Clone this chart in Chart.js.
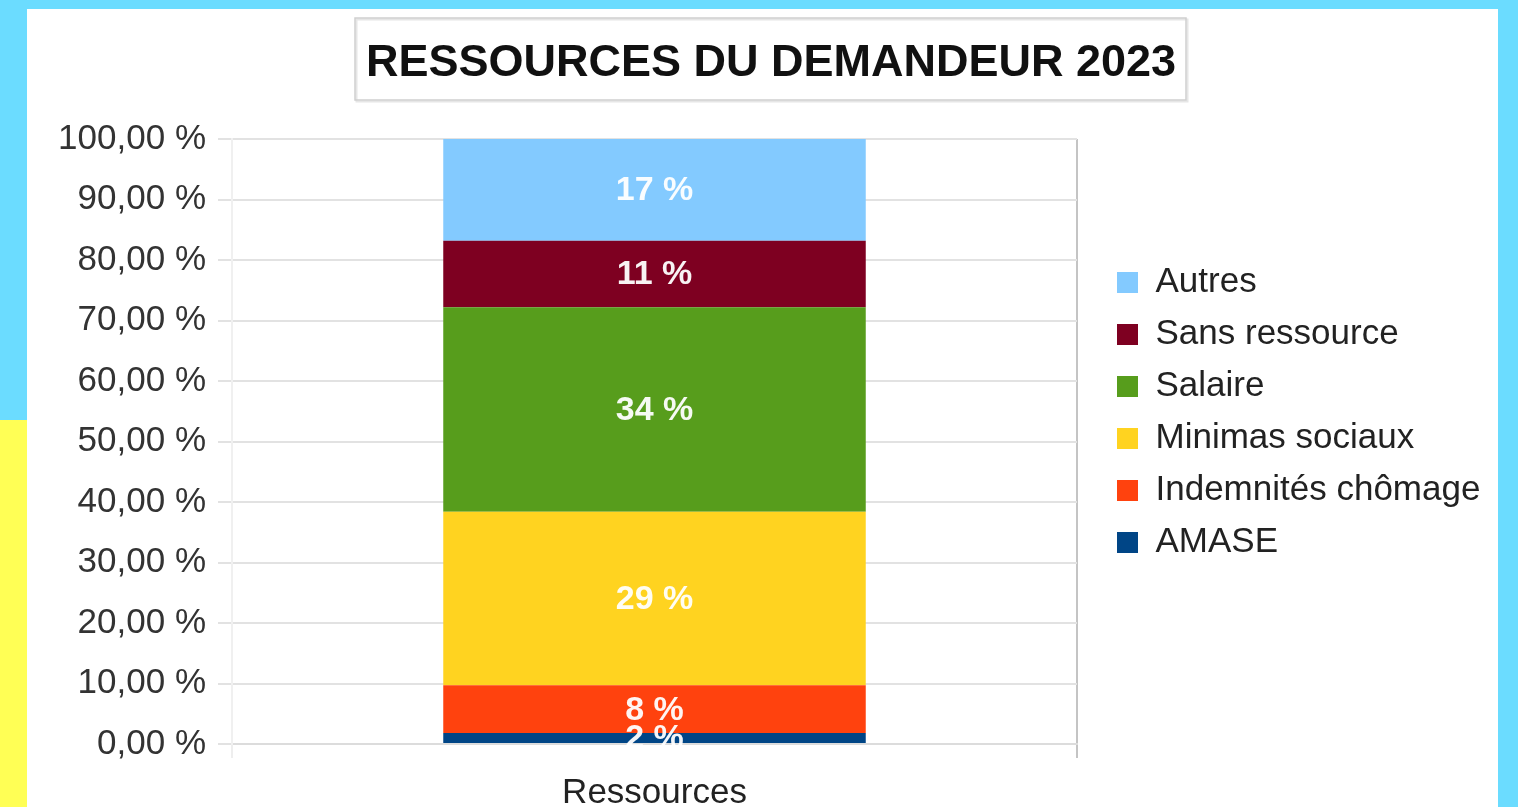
<!DOCTYPE html>
<html>
<head>
<meta charset="utf-8">
<script src="https://cdn.jsdelivr.net/npm/chart.js@4/dist/chart.umd.min.js"></script>
<style>
  html, body { margin: 0; padding: 0; }
  body { width: 1518px; height: 807px; overflow: hidden; background: #6bdcff; position: relative; font-family: "Liberation Sans", Arial, sans-serif; }
  #yellow { position: absolute; left: 0; top: 420px; width: 27px; height: 387px; background: #ffff55; }
  #panel { position: absolute; left: 27px; top: 9px; width: 1471px; height: 798px; background: #ffffff; }
  #panel canvas { display: block; }
</style>
</head>
<body>
<div id="yellow"></div>
<div id="panel"><canvas id="c" width="1471" height="798"></canvas></div>
<script>
const titleText = "RESSOURCES DU DEMANDEUR 2023";
const categories = ["Ressources"];
const seriesNames = ["AMASE", "Indemnités chômage", "Minimas sociaux", "Salaire", "Sans ressource", "Autres"];
const seriesValues = [1.8, 7.9, 28.7, 33.8, 11.0, 16.8];
const seriesColors = ["#004586", "#ff420e", "#ffd320", "#579d1c", "#7e0021", "#83caff"];
const yTicks = [0, 10, 20, 30, 40, 50, 60, 70, 80, 90, 100];

const FONT = "'Liberation Sans', Arial, sans-serif";
const TITLE_SIZE = 45;

const datasets = seriesNames.map((name, i) => ({
  label: name,
  data: [seriesValues[i]],
  backgroundColor: seriesColors[i],
  borderWidth: 0,
  barPercentage: 0.5,
  categoryPercentage: 1.0
}));

const legendFix = {
  id: 'legendFix',
  beforeLayout(chart) {
    const lg = chart.legend;
    if (lg && !lg.__patched) {
      const orig = lg.fit;
      lg.fit = function () { orig.call(this); this.width = 421; };
      lg.__patched = true;
    }
  },
  afterLayout(chart) {
    const lg = chart.legend;
    const pad = lg.options.labels.padding;
    lg.left = 1090 - pad;
    lg.top = 256 - pad;
    lg.right = 1471;
    lg.bottom = 798;
  }
};

const titleBox = {
  id: 'titleBox',
  afterDraw(chart) {
    const ctx = chart.ctx;
    const tb = chart.titleBlock;
    ctx.save();
    ctx.font = "bold " + TITLE_SIZE + "px " + FONT;
    const w = ctx.measureText(titleText).width;
    const cx = (tb.left + tb.right) / 2;
    const x0 = Math.round(cx - w / 2 - 11), x1 = Math.round(cx + w / 2 + 10);
    const y0 = 9, y1 = 91;
    ctx.strokeStyle = "#e6e6e6";
    ctx.lineWidth = 2;
    ctx.strokeRect(x0 + 1.5, y0 + 1.5, x1 - x0, y1 - y0);
    ctx.strokeStyle = "#cfcfcf";
    ctx.lineWidth = 1.5;
    ctx.strokeRect(x0, y0, x1 - x0, y1 - y0);
    ctx.restore();
  }
};

const segLabels = {
  id: 'segLabels',
  afterDatasetsDraw(chart) {
    const ctx = chart.ctx;
    ctx.save();
    ctx.font = "bold 34px " + FONT;
    ctx.fillStyle = "rgba(255,255,255,0.95)";
    ctx.textAlign = "center";
    ctx.textBaseline = "middle";
    chart.data.datasets.forEach((ds, i) => {
      const meta = chart.getDatasetMeta(i);
      meta.data.forEach((bar, j) => {
        const v = ds.data[j];
        const y = (bar.y + bar.base) / 2;
        ctx.fillText(Math.round(v) + " %", bar.x, y + 1);
      });
    });
    ctx.restore();
  }
};

new Chart(document.getElementById('c'), {
  type: 'bar',
  data: { labels: categories, datasets: datasets },
  plugins: [legendFix, titleBox, segLabels],
  options: {
    responsive: false,
    animation: false,
    layout: { padding: { left: 17, right: 0, top: 0, bottom: 0 } },
    plugins: {
      tooltip: { enabled: false },
      title: {
        display: true,
        text: titleText,
        color: "#111111",
        font: { family: FONT, size: TITLE_SIZE, weight: 'bold', lineHeight: 1.2 },
        padding: { top: 28, bottom: 48 }
      },
      legend: {
        position: 'right',
        align: 'start',
        reverse: true,
        labels: {
          color: "#222222",
          font: { family: FONT, size: 35 },
          boxWidth: 21,
          boxHeight: 21,
          padding: 17
        }
      }
    },
    scales: {
      x: {
        stacked: true,
        afterFit(scale) { scale.height = 63; },
        grid: {
          offset: true,
          color: (ctx) => ctx.index === 0 ? "#eeeeee" : "#c4c4c4",
          lineWidth: 2,
          tickLength: 14,
          drawOnChartArea: true
        },
        border: { display: true, color: "#dcdcdc", width: 2 },
        ticks: {
          color: "#222222",
          font: { family: FONT, size: 35 },
          padding: 14
        }
      },
      y: {
        stacked: true,
        min: 0,
        max: 100,
        afterFit(scale) { scale.width = 188; },
        afterBuildTicks(scale) { scale.ticks = yTicks.map(v => ({ value: v })); },
        grid: { color: "#e2e2e2", lineWidth: 2, tickLength: 14 },
        border: { display: true, color: "#f0f0f0", width: 2 },
        ticks: {
          color: "#333333",
          font: { family: FONT, size: 35 },
          padding: 12,
          callback: (v) => v.toFixed(2).replace('.', ',') + " %"
        }
      }
    }
  }
});
</script>
</body>
</html>
